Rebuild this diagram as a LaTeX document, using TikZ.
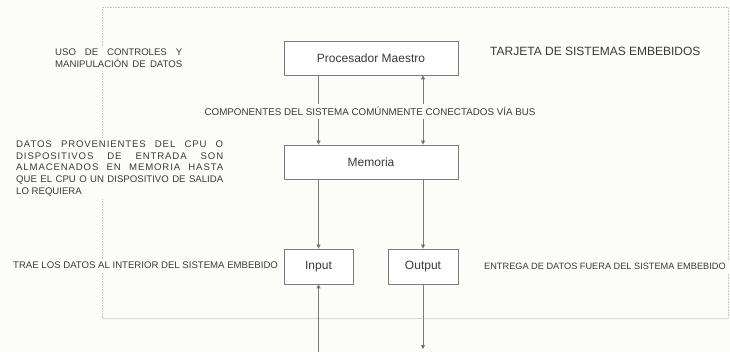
\documentclass[tikz,border=0pt]{standalone}
\usepackage{fontspec}
\setmainfont{Liberation Sans}
\usetikzlibrary{arrows.meta}
\definecolor{bg}{HTML}{FCFCF9}
\definecolor{ink}{HTML}{3A3A3A}
\definecolor{boxline}{HTML}{7C7C7C}
\definecolor{frameline}{HTML}{C4C4C4}
\newcommand{\jline}[2]{\makebox[#1][s]{#2}}
\newcommand{\wide}{\addfontfeature{LetterSpace=9}}

\tikzset{
  blk/.style={draw=boxline,line width=0.8pt,fill=white,text=ink,minimum height=34pt,inner sep=0pt,font=\fontsize{12}{14}\selectfont},
  note/.style={fill=bg,text=ink,inner sep=3pt,font=\fontsize{9.6}{11.8}\selectfont},
  arr/.style={draw=boxline,line width=0.8pt,-{Triangle[length=4pt,width=4pt,fill=ink]}},
  arrs/.style={draw=boxline,line width=0.8pt,{Triangle[length=4pt,width=4pt,fill=ink]}-{Triangle[length=4pt,width=4pt,fill=ink]}}
}

\begin{document}
\begin{tikzpicture}[x=1pt,y=-1pt]

\useasboundingbox (0,0) rectangle (730,352);
\fill[bg] (0,0) rectangle (730,352);

% tarjeta
\draw[frameline,densely dotted,line width=0.6pt] (102,7) rectangle (728,318);

\node[blk,minimum width=174pt] (proc) at (371,58) {Procesador Maestro};
\node[blk,minimum width=174pt] (mem) at (371,162) {Memoria};
\node[blk,minimum width=69pt,minimum height=35pt] (inp) at (318.5,266.5) {Input};
\node[blk,minimum width=70pt,minimum height=35pt] (out) at (423,266.5) {Output};

\coordinate (inpend) at (318.5,352);
\coordinate (outend) at (423,349);

\draw[arr] (proc.south -| inp) -- (mem.north -| inp);
\draw[arrs] (mem.north -| out) -- (proc.south -| out);
\draw[arr] (mem.south -| inp) -- (inp.north);
\draw[arr] (mem.south -| out) -- (out.north);
\draw[arr] (inpend) -- (inp.south);
\draw[arr] (out.south) -- (outend);

\node[note,font=\fontsize{9.8}{12}\selectfont] (bus) at (370,111.5) {COMPONENTES DEL SISTEMA COMÚNMENTE CONECTADOS VÍA BUS};

\node[note,anchor=west,align=left] (uso) at (52,58)
  {\jline{127pt}{USO DE CONTROLES Y}\\\jline{127pt}{MANIPULACIÓN DE DATOS}};

\node[note,anchor=west,align=left] (datos) at (13,168.5)
  {\jline{207pt}{\wide DATOS PROVENIENTES DEL CPU O}\\
   \jline{207pt}{\wide DISPOSITIVOS DE ENTRADA SON}\\
   \jline{207pt}{\wide ALMACENADOS EN MEMORIA HASTA}\\
   \jline{207pt}{QUE EL CPU O UN DISPOSITIVO DE SALIDA}\\
   LO REQUIERA};

\node[note,font=\fontsize{12}{14}\selectfont,anchor=west] (tarjeta) at (487,51) {TARJETA DE SISTEMAS EMBEBIDOS};

\node[note,anchor=west] (trae) at (10,265.5) {TRAE LOS DATOS AL INTERIOR DEL SISTEMA EMBEBIDO};
\node[note,font=\fontsize{9.2}{11}\selectfont,anchor=west] (entrega) at (481,266.5) {ENTREGA DE DATOS FUERA DEL SISTEMA EMBEBIDO};

\end{tikzpicture}
\end{document}
